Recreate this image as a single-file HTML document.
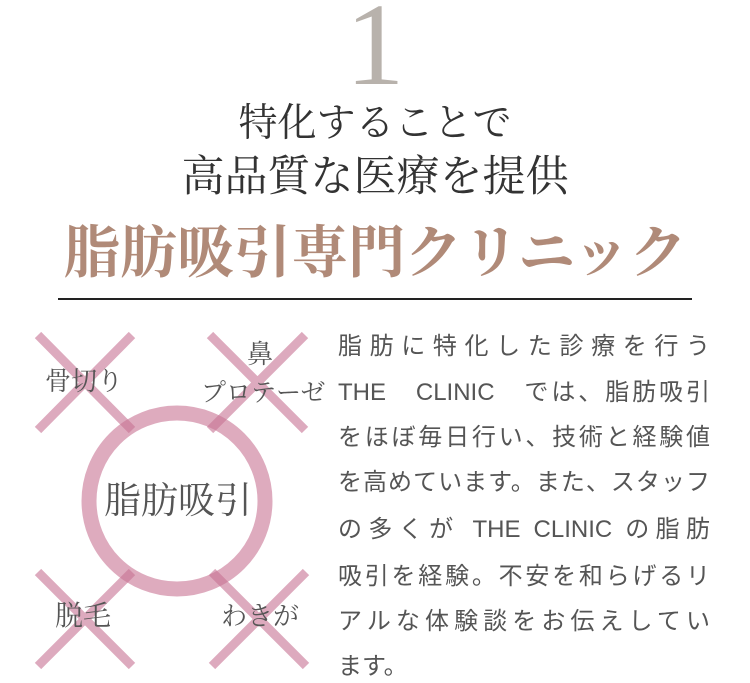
<!DOCTYPE html>
<html><head><meta charset="utf-8"><style>
body{margin:0;width:750px;height:681px;background:#fff;position:relative;overflow:hidden}
.a{position:absolute;white-space:nowrap}
.serif{font-family:"Liberation Serif","Noto Serif CJK SC",serif}
.t{position:absolute;left:338px;width:372px;font-family:"Liberation Sans","Noto Sans CJK JP",sans-serif;font-size:24px;color:#555;text-align:justify;text-align-last:justify;height:32px;line-height:32px;white-space:nowrap}
.d{font-family:"Liberation Serif","Noto Serif CJK SC",serif;color:#555;position:absolute;white-space:nowrap}
</style></head><body>
<div class="a serif" style="left:0;width:750px;text-align:center;top:-14px;font-size:118px;line-height:118px;color:#b8b2ac">1</div>
<div class="a serif" style="left:0;width:750px;text-align:center;top:100px;font-size:39px;line-height:48px;color:#333">特化することで</div>
<div class="a serif" style="left:0;width:750px;text-align:center;top:153px;font-size:43px;line-height:50px;color:#333">高品質な医療を提供</div>
<div class="a serif" style="left:58px;width:634px;text-align:center;top:220px;font-size:57px;line-height:68px;color:#b08a78;font-weight:bold">脂肪吸引専門クリニック</div>
<div class="a" style="left:58px;top:298px;width:634px;height:2px;background:#222"></div>
<svg class="a" style="left:0;top:0" width="340" height="681">
<g stroke="#c87393" stroke-width="9" opacity="0.6" fill="none">
<line x1="38" y1="335" x2="132" y2="430"/><line x1="132" y1="335" x2="38" y2="430"/>
<line x1="210" y1="335" x2="305" y2="430"/><line x1="305" y1="335" x2="210" y2="430"/>
<line x1="38" y1="572" x2="132" y2="666"/><line x1="132" y1="572" x2="38" y2="666"/>
<line x1="212" y1="572" x2="306" y2="666"/><line x1="306" y1="572" x2="212" y2="666"/>
</g>
<circle cx="177" cy="501" r="88" stroke-width="15" stroke="#c87393" opacity="0.6" fill="none"/>
</svg>
<div class="d" style="left:45px;top:366px;font-size:26px;line-height:32px">骨切り</div>
<div class="d" style="left:247px;top:339px;font-size:26px;line-height:32px">鼻</div>
<div class="d" style="left:201px;top:378px;font-size:25px;line-height:32px">プロテーゼ</div>
<div class="d" style="left:104px;top:480px;font-size:37px;line-height:44px">脂肪吸引</div>
<div class="d" style="left:55px;top:601px;font-size:28px;line-height:32px">脱毛</div>
<div class="d" style="left:221px;top:601px;font-size:26px;line-height:32px">わきが</div>
<div class="t" style="top:331px">脂肪に特化した診療を行う</div>
<div class="t" style="top:377px">THE　CLINIC　では、脂肪吸引</div>
<div class="t" style="top:422px">をほぼ毎日行い、技術と経験値</div>
<div class="t" style="top:467px">を高めています。また、スタッフ</div>
<div class="t" style="top:514px">の多くが THE CLINIC の脂肪</div>
<div class="t" style="top:561px">吸引を経験。不安を和らげるリ</div>
<div class="t" style="top:606px">アルな体験談をお伝えしてい</div>
<div class="t" style="top:651px;text-align-last:left">ます。</div>
</body></html>
